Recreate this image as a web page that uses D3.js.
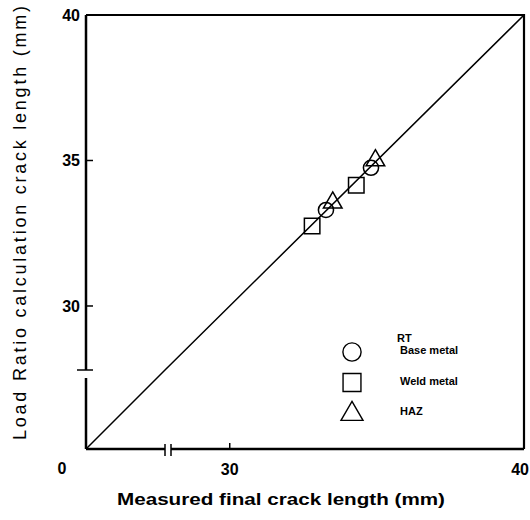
<!DOCTYPE html>
<html>
<head>
<meta charset="utf-8">
<script src="https://cdn.jsdelivr.net/npm/d3@7"></script>
<style>
  body { margin: 0; background: #fff; }
  svg { display: block; font-family: "Liberation Sans", Arial, sans-serif; }
</style>
</head>
<body>
<div id="chart"></div>
<script>
// data
const baseMetal = [[33.27, 33.3], [34.8, 34.75]];
const weldMetal = [[32.8, 32.75], [34.3, 34.15]];
const haz = [[33.5, 33.55], [34.95, 35.0]];
const ticks = [30, 35];
const xTicks = [30];
const legendNames = ["Base metal", "Weld metal", "HAZ"];
const brk = 27.8;   // axis break value

drawChart();

function drawChart() {
  const width = 530, height = 520;

  const svg = d3.select("#chart").append("svg")
    .attr("width", width)
    .attr("height", height);

  // piecewise scales: compressed 0..brk, then brk..40
  const x = d3.scaleLinear().domain([0, brk, 40]).range([86, 165, 524]);
  const y = d3.scaleLinear().domain([0, brk, 40]).range([449, 370, 15]);

  const g = svg.append("g");

  // frame top and right
  g.append("path")
    .attr("d", `M${x(0)},${y(40)}H${x(40)}V${y(0)}`)
    .attr("fill", "none").attr("stroke", "#000").attr("stroke-width", 2.2);

  // bottom axis with break
  g.append("path")
    .attr("d", `M${x(0)},${y(0)}H${x(brk)}M${x(brk) + 6},${y(0)}H${x(40)}`)
    .attr("fill", "none").attr("stroke", "#000").attr("stroke-width", 2.5);
  g.append("path")
    .attr("d", `M${x(brk)},${y(0) - 5}V${y(0) + 7}M${x(brk) + 6},${y(0) - 5}V${y(0) + 7}`)
    .attr("fill", "none").attr("stroke", "#000").attr("stroke-width", 1.5);

  // left axis with break
  g.append("path")
    .attr("d", `M${x(0)},${y(0)}V${y(brk) + 8}M${x(0)},${y(brk)}V${y(40)}`)
    .attr("fill", "none").attr("stroke", "#000").attr("stroke-width", 2.5);
  g.append("path")
    .attr("d", `M${x(0) - 9},${y(brk)}H${x(0) + 7}`)
    .attr("fill", "none").attr("stroke", "#000").attr("stroke-width", 1.5);

  // ticks inward
  g.selectAll(".ytick").data(ticks).enter().append("line")
    .attr("x1", x(0)).attr("x2", x(0) + 7)
    .attr("y1", d => y(d)).attr("y2", d => y(d))
    .attr("stroke", "#000").attr("stroke-width", 1.5);
  g.selectAll(".xtick").data(xTicks).enter().append("line")
    .attr("x1", d => x(d)).attr("x2", d => x(d))
    .attr("y1", y(0)).attr("y2", y(0) - 6)
    .attr("stroke", "#000").attr("stroke-width", 1.5);

  // tick labels
  g.selectAll(".ylab").data(ticks.concat([40])).enter().append("text")
    .attr("x", 80).attr("y", d => y(d) + 6)
    .attr("text-anchor", "end")
    .style("font-size", "16px").style("font-weight", "bold")
    .text(d => d);
  g.selectAll(".xlab").data(xTicks).enter().append("text")
    .attr("x", d => x(d)).attr("y", 475)
    .attr("text-anchor", "middle")
    .style("font-size", "16px").style("font-weight", "bold")
    .text(d => d);
  g.append("text")
    .attr("x", 529).attr("y", 475)
    .attr("text-anchor", "end")
    .style("font-size", "16px").style("font-weight", "bold")
    .text("40");
  g.append("text")
    .attr("x", 62).attr("y", 474)
    .attr("text-anchor", "middle")
    .style("font-size", "16px").style("font-weight", "bold")
    .text("0");

  // 1:1 line
  const line = d3.line().x(d => x(d)).y(d => y(d));
  g.append("path")
    .datum([0, brk, 40])
    .attr("d", line)
    .attr("fill", "none").attr("stroke", "#000").attr("stroke-width", 1.5);

  const sym = [d3.symbolCircle, d3.symbolSquare, d3.symbolTriangle];
  const series = [baseMetal, weldMetal, haz];
  const sizes = [180, 240, 150];

  series.forEach((s, i) => {
    g.selectAll(".pt" + i).data(s).enter().append("path")
      .attr("transform", d => `translate(${x(d[0])},${y(d[1])})`)
      .attr("d", d3.symbol().type(sym[i]).size(sizes[i]))
      .attr("fill", "none").attr("stroke", "#000").attr("stroke-width", 1.5);
  });

  // legend
  const leg = g.append("g");
  leg.append("text").attr("x", 397).attr("y", 342)
    .style("font-size", "11px").style("font-weight", "bold").text("RT");
  const legSizes = [260, 320, 210];
  legendNames.forEach((name, i) => {
    const cy = 352 + i * 30.5;
    leg.append("path")
      .attr("transform", `translate(352,${cy + (i === 2 ? 1 : 0)})`)
      .attr("d", d3.symbol().type(sym[i]).size(legSizes[i]))
      .attr("fill", "none").attr("stroke", "#000").attr("stroke-width", 1.4);
    leg.append("text").attr("x", 400).attr("y", cy + 2)
      .style("font-size", "11px").style("font-weight", "bold")
      .text(name);
  });

  // axis titles
  g.append("text")
    .attr("x", 281).attr("y", 505)
    .attr("text-anchor", "middle")
    .attr("textLength", 328).attr("lengthAdjust", "spacingAndGlyphs")
    .style("font-size", "17px").style("font-weight", "bold")
    .text("Measured final crack length (mm)");
  g.append("text")
    .attr("transform", "translate(26,223) rotate(-90)")
    .attr("text-anchor", "middle")
    .attr("textLength", 434).attr("lengthAdjust", "spacing")
    .style("font-size", "18px")
    .text("Load Ratio calculation crack length (mm)");
}
</script>
</body>
</html>
